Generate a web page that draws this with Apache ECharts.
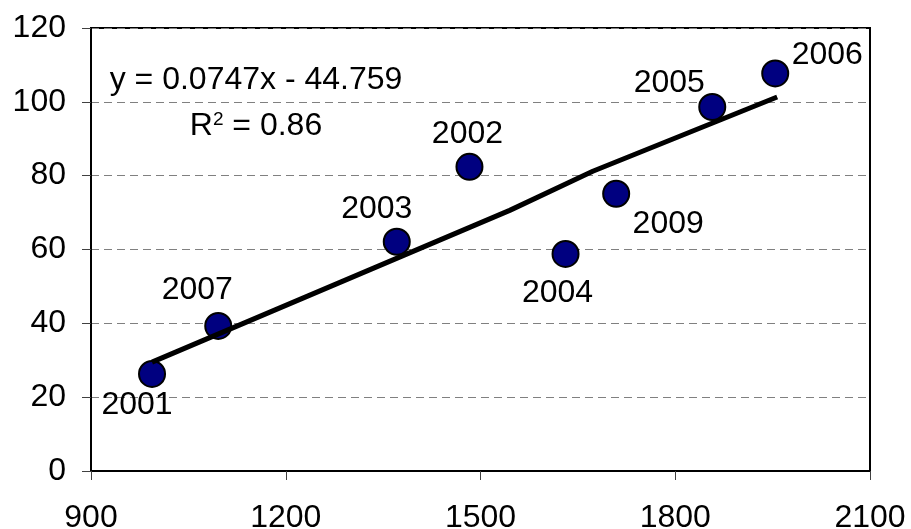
<!DOCTYPE html>
<html>
<head>
<meta charset="utf-8">
<title>Scatter with linear trend</title>
<script src="https://cdn.jsdelivr.net/npm/echarts@6/dist/echarts.min.js"></script>
<style>
  html, body { margin: 0; padding: 0; background: #fff; }
  #chart { width: 911px; height: 529px; }
</style>
</head>
<body>
<div id="chart"></div>
<script>
// Observations: x value, y value, year label
const years = ['2001', '2007', '2003', '2002', '2004', '2009', '2005', '2006'];
const xValues = [994, 1096, 1371, 1483, 1631, 1709, 1857, 1954];
const yValues = [26.3, 39.3, 62.1, 82.4, 58.8, 75.1, 98.6, 107.7];

// Trend line vertices
const trendX = [994, 1545, 1673, 1957];
const trendY = [29.5, 70.6, 81.2, 101.3];

// Axis ticks
const xTicks = [900, 1200, 1500, 1800, 2100];
const yTicks = [0, 20, 40, 60, 80, 100, 120];

// Label placement per year, relative to marker centre
const labelOffsets = {
  '2001': [-15, 31],
  '2007': [-21, -36],
  '2003': [-20, -33],
  '2002': [-2, -33],
  '2004': [-8, 39],
  '2009': [52, 30],
  '2005': [-43, -24],
  '2006': [52, -18]
};

const FONT = 'Liberation Sans, Arial, sans-serif';
const FS = 32;

const chart = echarts.init(document.getElementById('chart'), null, { renderer: 'canvas' });

const scatterData = years.map((yr, i) => ({
  value: [xValues[i], yValues[i]],
  name: yr,
  label: { offset: labelOffsets[yr] }
}));

const trendData = trendX.map((x, i) => [x, trendY[i]]);

chart.setOption({
  animation: false,
  backgroundColor: '#ffffff',
  grid: {
    left: 91, right: 41, top: 28, bottom: 58,
    outerBoundsMode: 'none',
    containLabel: false,
    show: true, borderColor: '#000', borderWidth: 2, backgroundColor: 'transparent'
  },
  xAxis: {
    type: 'value',
    min: xTicks[0], max: xTicks[xTicks.length - 1], interval: 300,
    axisLine: { show: true, lineStyle: { color: '#000', width: 2 } },
    axisTick: { show: true, inside: false, length: 9, lineStyle: { color: '#404040', width: 1 } },
    axisLabel: { margin: 31, color: '#000', fontFamily: FONT, fontSize: FS,
      formatter: v => String(v) },
    splitLine: { show: false }
  },
  yAxis: {
    type: 'value',
    min: yTicks[0], max: yTicks[yTicks.length - 1], interval: 20,
    axisLine: { show: true, lineStyle: { color: '#000', width: 2 } },
    axisTick: { show: true, inside: false, length: 9, lineStyle: { color: '#404040', width: 1 } },
    axisLabel: { margin: 25, color: '#000', fontFamily: FONT, fontSize: FS,
      formatter: v => String(v) },
    splitLine: { show: true, lineStyle: { color: '#808080', width: 1, type: [8, 5] } }
  },
  series: [
    {
      type: 'scatter',
      data: scatterData,
      symbol: 'circle',
      symbolSize: 26,
      itemStyle: { color: '#000080', borderColor: '#000', borderWidth: 2, opacity: 1 },
      label: {
        show: true,
        position: 'inside',
        formatter: p => p.name,
        color: '#000',
        fontFamily: FONT,
        fontSize: FS
      },
      z: 2
    },
    {
      type: 'line',
      data: trendData,
      symbol: 'none',
      lineStyle: { color: '#000', width: 5 },
      z: 3,
      silent: true
    }
  ],
  graphic: [
    {
      type: 'text',
      x: 256, y: 80,
      style: {
        text: 'y = 0.0747x - 44.759',
        font: FS + 'px ' + FONT,
        fill: '#000',
        align: 'center',
        verticalAlign: 'middle'
      }
    },
    {
      type: 'text',
      x: 256, y: 125,
      style: {
        text: '{a|R}{s|2}{a| = 0.86}',
        align: 'center',
        verticalAlign: 'middle',
        rich: {
          a: { fontFamily: FONT, fontSize: FS, fill: '#000', color: '#000', lineHeight: 34, verticalAlign: 'bottom' },
          s: { fontFamily: FONT, fontSize: 19, fill: '#000', color: '#000', lineHeight: 34, verticalAlign: 'top', padding: [2, 0, 0, 0] }
        }
      }
    }
  ]
});
</script>
</body>
</html>
